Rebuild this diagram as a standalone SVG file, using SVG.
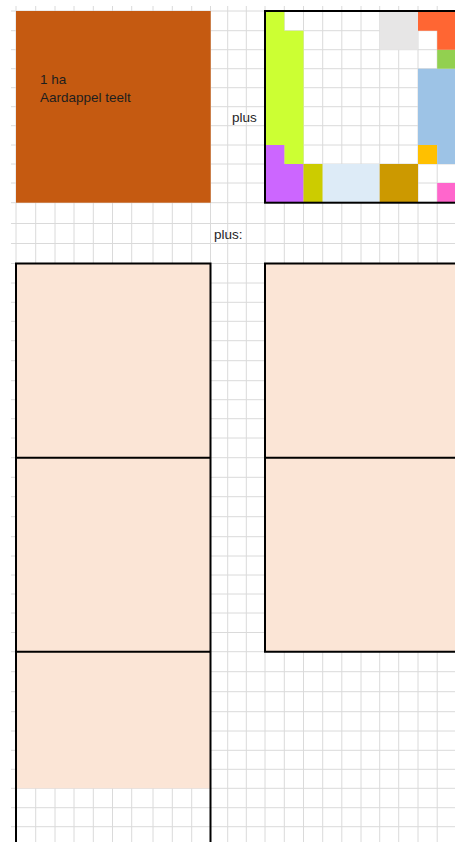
<svg xmlns="http://www.w3.org/2000/svg" width="455" height="842" viewBox="0 0 455 842">
<style>
.grid{stroke:#dadada;stroke-width:1;fill:none}
.bd{stroke:#000;stroke-width:2;fill:none}
.peach{fill:#FBE5D6}
.lbl{font-family:"Liberation Sans",Arial,sans-serif;font-size:13.5px;fill:#1e1e1e}
</style>
<rect x="0" y="0" width="455" height="842" fill="#fff"/>
<g id="grid" class="grid">
<path d="M16 6V842M35.7 6V842M55 6V842M74 6V842M93.3 6V842M112.5 6V842M131.7 6V842M153 6V842M172.3 6V842M191.7 6V842M210.5 6V842M227.7 6V842M246.3 6V842M265 6V842M284.3 6V842M303.5 6V842M322.7 6V842M341.8 6V842M361 6V842M379.7 6V842M398.7 6V842M418 6V842M437.2 6V842"/>
<path d="M11 11H455M11 30.7H455M11 49.7H455M11 68.7H455M11 87.7H455M11 106.7H455M11 125.7H455M11 145H455M11 164H455M11 183H455M11 202.7H455M11 223.5H455M11 243.5H455M11 263.5H455M11 283H455M11 302.3H455M11 321.3H455M11 340.7H455M11 360.7H455M11 380.7H455M11 399.7H455M11 418.7H455M11 438H455M11 457.7H455M11 477.3H455M11 496.7H455M11 516.7H455M11 536.7H455M11 556H455M11 575H455M11 594H455M11 613H455M11 632.5H455M11 651.7H455M11 671.7H455M11 691.7H455M11 711.7H455M11 731H455M11 750.3H455M11 769.3H455M11 788.3H455M11 807.7H455M11 826.7H455"/>
</g>
<g id="field-potato">
<rect x="16" y="11" width="194.7" height="191.7" fill="#C55A11"/>
<text class="lbl" x="40" y="84">1 ha</text>
<text class="lbl" x="40" y="102">Aardappel teelt</text>
</g>
<g id="label-plus">
<text class="lbl" x="232" y="121.5">plus</text>
</g>
<g id="garden-grid">
<path d="M265 11H284.3V30.7H303.5V164H284.3V145H265Z" fill="#CCFF33"/>
<path d="M265 145H284.3V164H303.5V202.7H265Z" fill="#CC66FF"/>
<rect x="303.5" y="164" width="19.2" height="38.7" fill="#CCCC00"/>
<rect x="322.7" y="164" width="57" height="38.7" fill="#DDEBF7"/>
<rect x="379.7" y="164" width="38.3" height="38.7" fill="#CC9900"/>
<rect x="437.2" y="183" width="18.8" height="19.7" fill="#FF66CC"/>
<rect x="418" y="145" width="19.2" height="19" fill="#FFC000"/>
<path d="M418 68.7H456V164H437.2V145H418Z" fill="#9DC3E6"/>
<rect x="437.2" y="49.7" width="18.8" height="19" fill="#92D050"/>
<path d="M418 11H456V49.7H437.2V30.7H418Z" fill="#FF6633"/>
<rect x="379.7" y="11" width="38.3" height="38.7" fill="#E7E6E6"/>
<rect class="bd" x="265" y="11" width="200" height="191.7"/>
</g>
<g id="label-plus2">
<text class="lbl" x="214" y="238.5">plus:</text>
</g>
<g id="plot-left-1">
<rect class="peach" x="16" y="263.5" width="194.5" height="194.2"/>
</g>
<g id="plot-left-2">
<rect class="peach" x="16" y="457.7" width="194.5" height="194"/>
</g>
<g id="plot-left-3">
<rect class="peach" x="16" y="651.7" width="194.5" height="136.6"/>
</g>
<g id="plot-right-1">
<rect class="peach" x="265" y="263.5" width="195" height="194.2"/>
</g>
<g id="plot-right-2">
<rect class="peach" x="265" y="457.7" width="195" height="194"/>
</g>
<g id="borders" class="bd">
<path d="M16 263.5V845M210.5 263.5V845M15 263.5H211.5M15 457.7H211.5M15 651.7H211.5"/>
<path d="M265 263.5V651.7M264 263.5H460M264 457.7H460M264 651.7H460"/>
</g>
</svg>
